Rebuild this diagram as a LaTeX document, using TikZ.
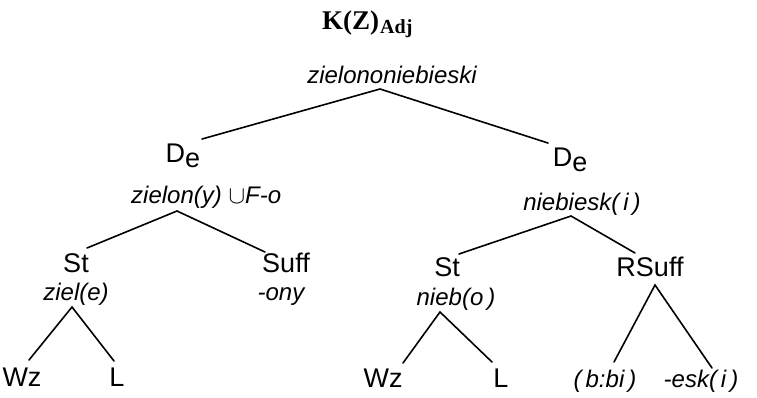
\documentclass[tikz,border=0pt]{standalone}
\usepackage{fontspec}
\newfontfamily\labfont{Liberation Sans}
\newfontfamily\titfont{Liberation Serif}
\tikzset{
  lab/.style={inner sep=0pt, anchor=base, font=\labfont\fontsize{27}{27}\selectfont},
  itl/.style={inner sep=0pt, anchor=base, font=\labfont\itshape\fontsize{24}{24}\selectfont},
  edge/.style={line width=1.6pt, line cap=round},
}
\newcommand{\Dee}{D\raisebox{-5pt}{e}}
\begin{document}
\begin{tikzpicture}[x=1pt,y=-1pt]
\useasboundingbox (0,0) rectangle (757,397);
% title
\node[inner sep=0pt, anchor=base west, font=\titfont\bfseries\fontsize{27}{27}\selectfont] (title) at (322,29) {K(Z)\kern1pt\raisebox{-4pt}{\fontsize{20}{20}\selectfont Adj}};
% root
\node[itl] (root) at (392,83) {zielononiebieski};
\coordinate (rootA) at (380,89);
\node[lab] (deL) at (183,162) {\Dee};
\coordinate (deLA) at (202,139);
\node[lab] (deR) at (570,166) {\Dee};
\coordinate (deRA) at (548,143);
\draw[edge] (deLA) -- (rootA) -- (deRA);
% left De
\node[itl, anchor=base west] (zielony) at (131,203) {zielon(y) $\cup$F-o};
\coordinate (zielonyA) at (177,211);
\node[lab] (stL) at (76,272) {St};
\coordinate (stLA) at (87,248);
\node[lab] (suff) at (286,272) {Suff};
\coordinate (suffA) at (265,252);
\draw[edge] (stLA) -- (zielonyA) -- (suffA);
\node[itl] (ziele) at (76,300) {ziel(e)};
\node[itl] (ony) at (281,300) {-ony};
\coordinate (zieleA) at (72,307);
\node[lab] (wzL) at (22,386) {Wz};
\coordinate (wzLA) at (29,360);
\node[lab] (lL) at (117,386) {L};
\coordinate (lLA) at (114,361);
\draw[edge] (wzLA) -- (zieleA) -- (lLA);
% right De
\node[itl] (niebieski) at (582,210) {niebiesk(\,i\,)};
\coordinate (niebieskiA) at (571,216);
\node[lab] (stR) at (447,276) {St};
\coordinate (stRA) at (459,254);
\node[lab] (rsuff) at (650,276) {RSuff};
\coordinate (rsuffA) at (635,253);
\draw[edge] (stRA) -- (niebieskiA) -- (rsuffA);
\node[itl] (niebo) at (456,305) {nieb(o\,)};
\coordinate (nieboA) at (440,312);
\node[lab] (wzR) at (383,387) {Wz};
\coordinate (wzRA) at (403,363);
\node[lab] (lR) at (501,387) {L};
\coordinate (lRA) at (492,362);
\draw[edge] (wzRA) -- (nieboA) -- (lRA);
\coordinate (rsuffB) at (655,285);
\node[itl] (bbi) at (605,387) {(\,b:bi\,)};
\coordinate (bbiA) at (614,362);
\node[itl] (esk) at (701,387) {-esk(\,i\,)};
\coordinate (eskA) at (712,368);
\draw[edge] (bbiA) -- (rsuffB) -- (eskA);
\end{tikzpicture}
\end{document}
